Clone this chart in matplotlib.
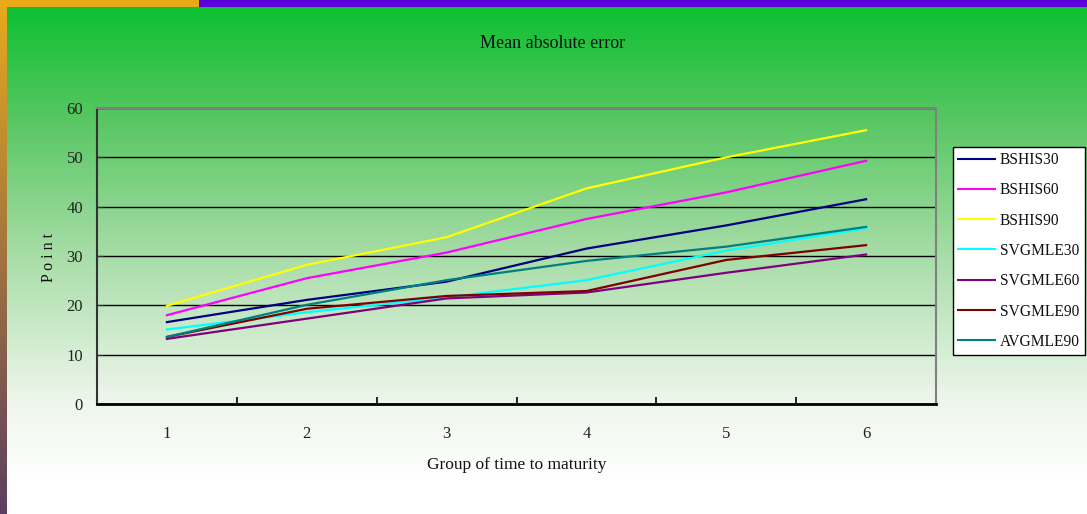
import numpy as np
import matplotlib
matplotlib.use("Agg")
import matplotlib.pyplot as plt
from matplotlib.patches import Rectangle

# ---- data ----
groups = [1, 2, 3, 4, 5, 6]
series_names = ["BSHIS30", "BSHIS60", "BSHIS90", "SVGMLE30", "SVGMLE60", "SVGMLE90", "AVGMLE90"]
bshis30 = [16.6, 21.1, 24.8, 31.5, 36.2, 41.5]
bshis60 = [18.0, 25.5, 30.7, 37.5, 42.9, 49.3]
bshis90 = [19.9, 28.2, 33.8, 43.7, 50.0, 55.5]
svgmle30 = [15.1, 18.6, 21.6, 25.1, 31.1, 35.6]
svgmle60 = [13.2, 17.3, 21.4, 22.6, 26.6, 30.3]
svgmle90 = [13.6, 19.3, 21.9, 22.9, 29.2, 32.2]
avgmle90 = [13.6, 20.1, 25.1, 29.0, 31.9, 35.9]
series_values = [bshis30, bshis60, bshis90, svgmle30, svgmle60, svgmle90, avgmle90]
colors = ["#000080", "#FF00FF", "#FFFF00", "#00FFFF", "#800080", "#800000", "#008080"]
y_ticks = [0, 10, 20, 30, 40, 50, 60]

W, H = 1087, 514
fig = plt.figure(figsize=(W / 100, H / 100), dpi=100)

# background gradient
bg = fig.add_axes([0, 0, 1, 1], zorder=0)
bg.set_axis_off()
ys = np.arange(H)
stops_y = [0, 7, 120, 250, 400, 480, 514]
stops_c = np.array([[14, 192, 50], [14, 192, 50], [88, 199, 98], [165, 220, 165],
                    [238, 246, 236], [255, 255, 255], [255, 255, 255]]) / 255.0
grad = np.stack([np.interp(ys, stops_y, stops_c[:, k]) for k in range(3)], axis=-1)
img = np.repeat(grad[:, None, :], 8, axis=1)
bg.imshow(img, extent=[0, W, H, 0], aspect="auto")
# left strip gradient
ls = np.stack([np.interp(ys, [0, 514], [c0, c1]) for c0, c1 in
               zip([232/255, 170/255, 30/255], [90/255, 62/255, 96/255])], axis=-1)
bg.imshow(np.repeat(ls[:, None, :], 2, axis=1), extent=[0, 7, H, 0], aspect="auto")
bg.add_patch(Rectangle((0, 0), 199, 7, color="#E8AA1A", lw=0))
bg.add_patch(Rectangle((199, 0), W - 199, 7, color="#5A00D8", lw=0))
bg.set_xlim(0, W)
bg.set_ylim(H, 0)

serif = ["Liberation Serif", "DejaVu Serif"]

# main axes: left 97, right 936, top 108, bottom 404
ax = fig.add_axes([97 / W, 1 - 404 / H, (936 - 97) / W, (404 - 108) / H], zorder=1)
ax.set_facecolor("none")
for name, vals, col in zip(series_names, series_values, colors):
    ax.plot(groups, vals, color=col, lw=1.6, label=name, solid_joinstyle="miter")

ax.set_xlim(0.5, 6.5)
ax.set_ylim(0, 60)
ax.set_yticks(y_ticks)
ax.set_xticks(groups)
ax.set_xticks([1.5, 2.5, 3.5, 4.5, 5.5], minor=True)
ax.yaxis.grid(True, color="black", lw=1.0)
ax.set_axisbelow(True)
ax.tick_params(axis="x", which="major", length=0, pad=16, labelsize=12)
ax.tick_params(axis="x", which="minor", length=5, direction="in", width=1.2, color="black")
ax.tick_params(axis="y", length=4, direction="in", pad=10, labelsize=12, color="#333333")
for lab in ax.get_xticklabels() + ax.get_yticklabels():
    lab.set_fontfamily(serif)
    lab.set_color("#222222")
ax.spines["bottom"].set_color("black")
ax.spines["bottom"].set_linewidth(2)
ax.spines["left"].set_color("#333333")
ax.spines["left"].set_linewidth(1.5)
for s in ["top", "right"]:
    ax.spines[s].set_color("#808080")
    ax.spines[s].set_linewidth(1.5)

fig.text(553 / W, 1 - 44 / H, "Mean absolute error", ha="center", va="center",
         fontsize=13, family=serif, color="#111111")
fig.text(517 / W, 1 - 465 / H, "Group of time to maturity", ha="center", va="center",
         fontsize=12.5, family=serif, color="#111111")
fig.text(49 / W, 1 - 257 / H, "P o i n t", ha="center", va="center", rotation=90,
         fontsize=11.5, family=serif, color="#111111")

leg = ax.legend(loc="upper left", bbox_to_anchor=(953 / W, 1 - 147 / H),
                bbox_transform=fig.transFigure, borderaxespad=0,
                prop={"family": serif, "size": 11.2}, frameon=True, fancybox=False,
                edgecolor="black", facecolor="white", framealpha=1,
                handlelength=2.4, handletextpad=0.3, labelspacing=0.92,
                borderpad=0.32)
leg.get_frame().set_linewidth(1.0)
for line in leg.get_lines():
    line.set_linewidth(1.5)
for t in leg.get_texts():
    t.set_color("#111111")

fig.savefig("out.png", dpi=100)
